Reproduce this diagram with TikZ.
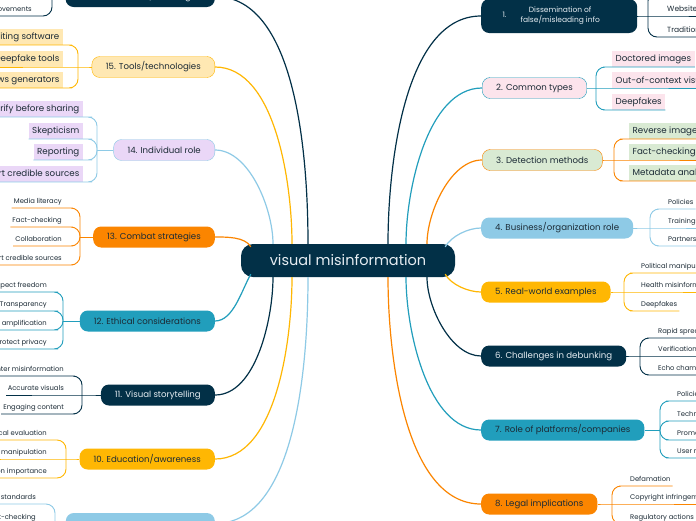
\documentclass[tikz,border=0pt]{standalone}
\usepackage{fontspec}
\setmainfont{Poppins}
\usetikzlibrary{positioning}
\usepackage{xcolor}
\definecolor{navy}{HTML}{023047}
\definecolor{ocean}{HTML}{219EBC}
\definecolor{sky}{HTML}{8ECAE6}
\definecolor{amber}{HTML}{FFB703}
\definecolor{tangerine}{HTML}{FB8500}
\definecolor{blush}{HTML}{FCE4EC}
\definecolor{mint}{HTML}{D9EAD3}
\definecolor{lilac}{HTML}{EAD7F7}
\definecolor{cream}{HTML}{FFE8B3}
\definecolor{ink}{HTML}{1C2B36}
\definecolor{paper}{HTML}{E6EDF2}

\begin{document}
\begin{tikzpicture}[x=1pt, y=-1pt,
    hub/.style={fill=navy, text=paper, rounded corners=12pt, minimum width=214pt, minimum height=33pt, font=\fontsize{14.5}{16}\selectfont},
    topic/.style={rounded corners=8pt, minimum height=21pt, inner xsep=14pt, inner ysep=0pt, text=ink, font=\fontsize{8.6}{10}\selectfont},
    tagbox/.style={inner xsep=3.5pt, inner ysep=0pt, minimum height=15.5pt, text=ink, font=\fontsize{8.7}{10}\selectfont},
    tag/.style={inner xsep=2pt, inner ysep=1.5pt, text height=4.5pt, text depth=2.5pt, text=ink, font=\fontsize{6.8}{8}\selectfont},
    link/.style={line width=1.2pt, looseness=0.8},
    twig/.style={line width=0.9pt, rounded corners=9pt},
]
\fill[white] (0,0) rectangle (696,520);
\useasboundingbox (0,0) rectangle (696,520);

% centre
\node[hub] (vm) at (348,260.5) {visual misinformation};

% right-hand topics
\node[topic, fill=navy, text=paper, minimum height=34pt, minimum width=156pt, anchor=west, font=\fontsize{7.5}{9}\selectfont] (t1) at (481,16)
    {\hspace{-16pt}1.\hspace{14pt}\begin{tabular}{@{}c@{}}Dissemination of\\false/misleading info\end{tabular}};
\node[topic, fill=blush, draw=ocean, anchor=west] (t2) at (482,88) {2. Common types};
\node[topic, fill=mint, draw=tangerine, anchor=west] (t3) at (482,160) {3. Detection methods};
\node[topic, fill=sky, anchor=west] (t4) at (481,228) {4. Business/organization role};
\node[topic, fill=amber, anchor=west] (t5) at (481,292) {5. Real-world examples};
\node[topic, fill=navy, text=paper, anchor=west] (t6) at (481,356) {6. Challenges in debunking};
\node[topic, fill=ocean, anchor=west] (t7) at (481,430) {7. Role of platforms/companies};
\node[topic, fill=tangerine, anchor=west] (t8) at (481,504) {8. Legal implications};

% left-hand topics
\node[topic, fill=navy, text=paper, anchor=east] (t16) at (215,-3.5) {16. Future trends/challenges};
\node[topic, fill=cream, draw=amber, anchor=east] (t15) at (215,67) {15. Tools/technologies};
\node[topic, fill=lilac, draw=sky, anchor=east] (t14) at (215,150) {14. Individual role};
\node[topic, fill=tangerine, anchor=east] (t13) at (215,237) {13. Combat strategies};
\node[topic, fill=ocean, anchor=east] (t12) at (215,321) {12. Ethical considerations};
\node[topic, fill=navy, text=paper, anchor=east] (t11) at (215,395) {11. Visual storytelling};
\node[topic, fill=amber, anchor=east] (t10) at (215,459) {10. Education/awareness};
\node[topic, fill=sky, minimum width=149pt, anchor=east] (t9) at (215,523.5) {};

% centre to topics
\draw[link, navy] ([xshift=40pt]vm.north) to[out=90, in=180] (t1.west);
\draw[link, ocean] ([xshift=58pt]vm.north) to[out=90, in=180] (t2.west);
\draw[link, tangerine] ([xshift=79pt]vm.north) to[out=90, in=180] (t3.west);
\draw[link, sky] ([shift={(-10pt,-3pt)}]vm.north east) to[out=60, in=180] (t4.west);
\draw[link, amber] ([shift={(-10pt,3pt)}]vm.south east) to[out=-60, in=180] (t5.west);
\draw[link, navy] ([xshift=79pt]vm.south) to[out=-90, in=180] (t6.west);
\draw[link, ocean] ([xshift=58pt]vm.south) to[out=-90, in=180] (t7.west);
\draw[link, tangerine] ([xshift=40pt]vm.south) to[out=-90, in=180] (t8.west);
\draw[link, navy] ([xshift=-40pt]vm.north) to[out=90, in=0] (t16.east);
\draw[link, amber] ([xshift=-56pt]vm.north) to[out=90, in=0] (t15.east);
\draw[link, sky] ([xshift=-75pt]vm.north) to[out=90, in=0] (t14.east);
\draw[link, tangerine] ([shift={(10pt,-3pt)}]vm.north west) to[out=120, in=0] (t13.east);
\draw[link, ocean] ([shift={(10pt,3pt)}]vm.south west) to[out=-120, in=0] (t12.east);
\draw[link, navy] ([xshift=-75pt]vm.south) to[out=-90, in=0] (t11.east);
\draw[link, amber] ([xshift=-56pt]vm.south) to[out=-90, in=0] (t10.east);
\draw[link, sky] ([xshift=-40pt]vm.south) to[out=-90, in=0] (t9.east);

% junctions
\coordinate (j1) at (648,16);
\coordinate (j2) at (596,88);
\coordinate (j3) at (614,160);
\coordinate (j4) at (650,228);
\coordinate (j5) at (624,292);
\coordinate (j6) at (640,356);
\coordinate (j7) at (660,430);
\coordinate (j8) at (612,504);
\coordinate (j16) at (52,-3.5);
\coordinate (j15) at (78,67);
\coordinate (j14) at (97,150);
\coordinate (j13) at (80,237);
\coordinate (j12) at (63,321);
\coordinate (j11) at (82,395);
\coordinate (j10) at (66,459);
\coordinate (j9) at (55,523.5);

% 1
\coordinate (l11) at (674,-8);
\node[tag, font=\fontsize{7.5}{9}\selectfont, text height=5.5pt, anchor=south west] (l12) at (665,16) {Websites};
\node[tag, font=\fontsize{7.5}{9}\selectfont, text height=5.5pt, anchor=south west] (l13) at (665,37) {Traditional media};
\draw[twig, navy] (t1.east) -- (j1) -- (l12.south west) -- (l12.south east);
\draw[twig, navy] (j1) |- (l11);
\draw[twig, navy] (j1) |- (l13.south west) -- (l13.south east);

% 2
\node[tagbox, fill=blush, anchor=south west] (l21) at (612,67) {Doctored images};
\node[tagbox, fill=blush, anchor=south west] (l22) at (612,88) {Out-of-context visuals};
\node[tagbox, fill=blush, anchor=south west] (l23) at (612,110) {Deepfakes};
\draw[twig, ocean] (t2.east) -- (j2) -- (l22.south west) -- (l22.south east);
\draw[twig, ocean] (j2) |- (l21.south west) -- (l21.south east);
\draw[twig, ocean] (j2) |- (l23.south west) -- (l23.south east);

% 3
\node[tagbox, fill=mint, anchor=south west] (l31) at (629,139) {Reverse image search};
\node[tagbox, fill=mint, anchor=south west] (l32) at (629,160) {Fact-checking sites};
\node[tagbox, fill=mint, anchor=south west] (l33) at (629,181) {Metadata analysis};
\draw[twig, tangerine] (t3.east) -- (j3) -- (l32.south west) -- (l32.south east);
\draw[twig, tangerine] (j3) |- (l31.south west) -- (l31.south east);
\draw[twig, tangerine] (j3) |- (l33.south west) -- (l33.south east);

% 4
\node[tag, anchor=south west] (l41) at (666,209) {Policies};
\node[tag, anchor=south west] (l42) at (666,228) {Training};
\node[tag, anchor=south west] (l43) at (666,246) {Partnerships};
\draw[twig, sky] (t4.east) -- (j4) -- (l42.south west) -- (l42.south east);
\draw[twig, sky] (j4) |- (l41.south west) -- (l41.south east);
\draw[twig, sky] (j4) |- (l43.south west) -- (l43.south east);

% 5
\node[tag, anchor=south west] (l51) at (639,273) {Political manipulation};
\node[tag, anchor=south west] (l52) at (639,292) {Health misinformation};
\node[tag, anchor=south west] (l53) at (639,311) {Deepfakes};
\draw[twig, amber] (t5.east) -- (j5) -- (l52.south west) -- (l52.south east);
\draw[twig, amber] (j5) |- (l51.south west) -- (l51.south east);
\draw[twig, amber] (j5) |- (l53.south west) -- (l53.south east);

% 6
\node[tag, anchor=south west] (l61) at (656,338) {Rapid spread};
\node[tag, anchor=south west] (l62) at (656,356) {Verification difficulties};
\node[tag, anchor=south west] (l63) at (656,375) {Echo chambers};
\draw[twig, navy] (t6.east) -- (j6) -- (l62.south west) -- (l62.south east);
\draw[twig, navy] (j6) |- (l61.south west) -- (l61.south east);
\draw[twig, navy] (j6) |- (l63.south west) -- (l63.south east);

% 7
\node[tag, anchor=south west] (l71) at (675,401) {Policies};
\node[tag, anchor=south west] (l72) at (675,421) {Technology};
\node[tag, anchor=south west] (l73) at (675,440) {Promoting accuracy};
\node[tag, anchor=south west] (l74) at (675,458) {User reporting};
\draw[twig, ocean] (t7.east) -- (j7);
\draw[twig, ocean] (j7) |- (l71.south west) -- (l71.south east);
\draw[twig, ocean] (j7) |- (l72.south west) -- (l72.south east);
\draw[twig, ocean] (j7) |- (l73.south west) -- (l73.south east);
\draw[twig, ocean] (j7) |- (l74.south west) -- (l74.south east);

% 8
\node[tag, anchor=south west] (l81) at (628,486) {Defamation};
\node[tag, anchor=south west] (l82) at (628,504) {Copyright infringement};
\node[tag, anchor=south west] (l83) at (628,524) {Regulatory actions};
\draw[twig, tangerine] (t8.east) -- (j8) -- (l82.south west) -- (l82.south east);
\draw[twig, tangerine] (j8) |- (l81.south west) -- (l81.south east);
\draw[twig, tangerine] (j8) |- (l83.south west) -- (l83.south east);

% 16
\node[tag, anchor=south east] (l161) at (34,16) {Detection improvements};
\draw[twig, navy] (t16.west) -- (j16);
\draw[twig, navy] (j16) |- (l161.south east) -- (l161.south west);

% 15
\node[tagbox, fill=cream, anchor=south east] (l151) at (63,45) {Image editing software};
\node[tagbox, fill=cream, anchor=south east] (l152) at (63,67) {Deepfake tools};
\node[tagbox, fill=cream, anchor=south east] (l153) at (63,88) {Fake news generators};
\draw[twig, amber] (t15.west) -- (j15) -- (l152.south east) -- (l152.south west);
\draw[twig, amber] (j15) |- (l151.south east) -- (l151.south west);
\draw[twig, amber] (j15) |- (l153.south east) -- (l153.south west);

% 14
\node[tagbox, fill=lilac, anchor=south east] (l141) at (83,117) {Verify before sharing};
\node[tagbox, fill=lilac, anchor=south east] (l142) at (83,139) {Skepticism};
\node[tagbox, fill=lilac, anchor=south east] (l143) at (83,160) {Reporting};
\node[tagbox, fill=lilac, anchor=south east] (l144) at (83,182) {Support credible sources};
\draw[twig, sky] (t14.west) -- (j14);
\draw[twig, sky] (j14) |- (l141.south east) -- (l141.south west);
\draw[twig, sky] (j14) |- (l142.south east) -- (l142.south west);
\draw[twig, sky] (j14) |- (l143.south east) -- (l143.south west);
\draw[twig, sky] (j14) |- (l144.south east) -- (l144.south west);

% 13
\node[tag, anchor=south east] (l131) at (64,208) {Media literacy};
\node[tag, anchor=south east] (l132) at (64,227) {Fact-checking};
\node[tag, anchor=south east] (l133) at (64,246) {Collaboration};
\node[tag, anchor=south east] (l134) at (64,265) {Support credible sources};
\draw[twig, tangerine] (t13.west) -- (j13);
\draw[twig, tangerine] (j13) |- (l131.south east) -- (l131.south west);
\draw[twig, tangerine] (j13) |- (l132.south east) -- (l132.south west);
\draw[twig, tangerine] (j13) |- (l133.south east) -- (l133.south west);
\draw[twig, tangerine] (j13) |- (l134.south east) -- (l134.south west);

% 12
\node[tag, anchor=south east] (l121) at (49,292) {Respect freedom};
\node[tag, anchor=south east] (l122) at (49,311) {Transparency};
\node[tag, anchor=south east] (l123) at (49,330) {Avoid amplification};
\node[tag, anchor=south east] (l124) at (49,349) {Protect privacy};
\draw[twig, ocean] (t12.west) -- (j12);
\draw[twig, ocean] (j12) |- (l121.south east) -- (l121.south west);
\draw[twig, ocean] (j12) |- (l122.south east) -- (l122.south west);
\draw[twig, ocean] (j12) |- (l123.south east) -- (l123.south west);
\draw[twig, ocean] (j12) |- (l124.south east) -- (l124.south west);

% 11
\node[tag, anchor=south east] (l111) at (66,376) {Counter misinformation};
\node[tag, anchor=south east] (l112) at (66,395) {Accurate visuals};
\node[tag, anchor=south east] (l113) at (66,414) {Engaging content};
\draw[twig, navy] (t11.west) -- (j11) -- (l112.south east) -- (l112.south west);
\draw[twig, navy] (j11) |- (l111.south east) -- (l111.south west);
\draw[twig, navy] (j11) |- (l113.south east) -- (l113.south west);

% 10
\node[tag, anchor=south east] (l101) at (49,440) {Critical evaluation};
\node[tag, anchor=south east] (l102) at (49,459) {Identifying manipulation};
\node[tag, anchor=south east] (l103) at (49,478) {Verification importance};
\draw[twig, amber] (t10.west) -- (j10) -- (l102.south east) -- (l102.south west);
\draw[twig, amber] (j10) |- (l101.south east) -- (l101.south west);
\draw[twig, amber] (j10) |- (l103.south east) -- (l103.south west);

% 9
\node[tag, anchor=south east] (l91) at (38,504) {Journalistic standards};
\node[tag, anchor=south east] (l92) at (38,523.5) {Fact-checking};
\draw[twig, sky] (t9.west) -- (j9) -- (l92.south east) -- (l92.south west);
\draw[twig, sky] (j9) |- (l91.south east) -- (l91.south west);

\end{tikzpicture}
\end{document}
